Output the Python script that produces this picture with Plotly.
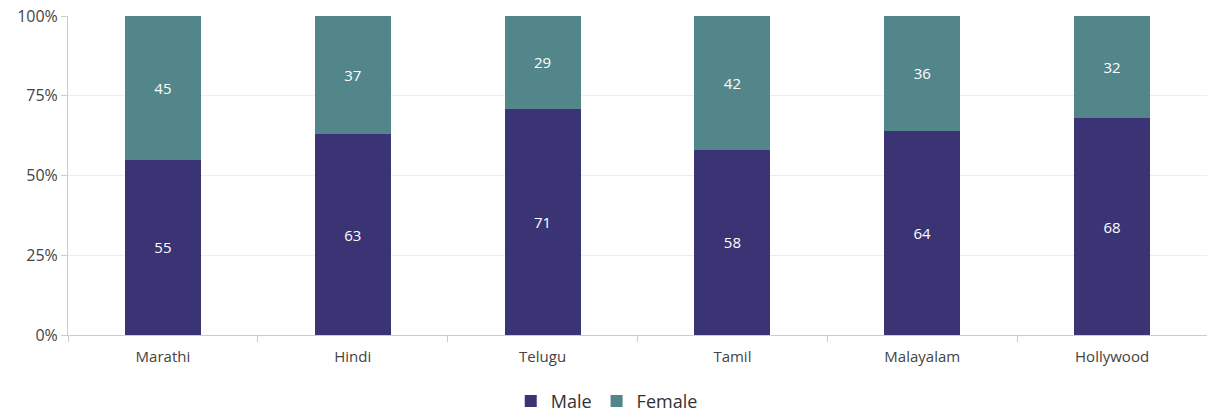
import plotly.graph_objects as go

categories = ["Marathi", "Hindi", "Telugu", "Tamil", "Malayalam", "Hollywood"]
male = [55, 63, 71, 58, 64, 68]
female = [45, 37, 29, 42, 36, 32]
y_ticks = [0, 25, 50, 75, 100]
y_tick_labels = ["0%", "25%", "50%", "75%", "100%"]

fig = go.Figure()
fig.add_trace(go.Bar(
    name="Male", x=categories, y=male, text=[str(v) for v in male],
    marker=dict(color="#3A3475", line=dict(width=0)),
    textposition="inside", insidetextanchor="middle", textangle=0,
    textfont=dict(color="white", size=15, family="Open Sans"),
))
fig.add_trace(go.Bar(
    name="Female", x=categories, y=female, text=[str(v) for v in female],
    marker=dict(color="#52868A", line=dict(width=0)),
    textposition="inside", insidetextanchor="middle", textangle=0,
    textfont=dict(color="white", size=15, family="Open Sans"),
))

fig.update_layout(
    barmode="stack",
    bargap=0.6,
    width=1207, height=412,
    margin=dict(l=68, r=0, t=16, b=77, autoexpand=False),
    plot_bgcolor="white", paper_bgcolor="white",
    font=dict(family="Open Sans", color="#444444", size=14),
    legend=dict(orientation="h", x=0.473, xanchor="center", y=-0.15, yanchor="top",
                traceorder="normal",
                font=dict(size=18, color="#333333"), itemwidth=30),
    xaxis=dict(
        automargin=False,
        showline=True, linecolor="#cccccc", linewidth=1,
        ticks="outside", tickson="boundaries", ticklen=6, tickcolor="#cccccc",
        ticklabelstandoff=8,
        tickfont=dict(size=15, color="#444444"), showgrid=False,
    ),
    yaxis=dict(
        automargin=False,
        range=[0, 100], tickvals=y_ticks, ticktext=y_tick_labels,
        showline=True, linecolor="#cccccc", linewidth=1,
        ticks="outside", ticklen=6, tickcolor="#cccccc",
        showgrid=True, gridcolor="#eeeeee", zeroline=False,
        tickfont=dict(size=16, color="#444444"),
    ),
)

fig.write_html("out.html", config={"displayModeBar": False},
               post_script="document.body.style.margin='0';")
